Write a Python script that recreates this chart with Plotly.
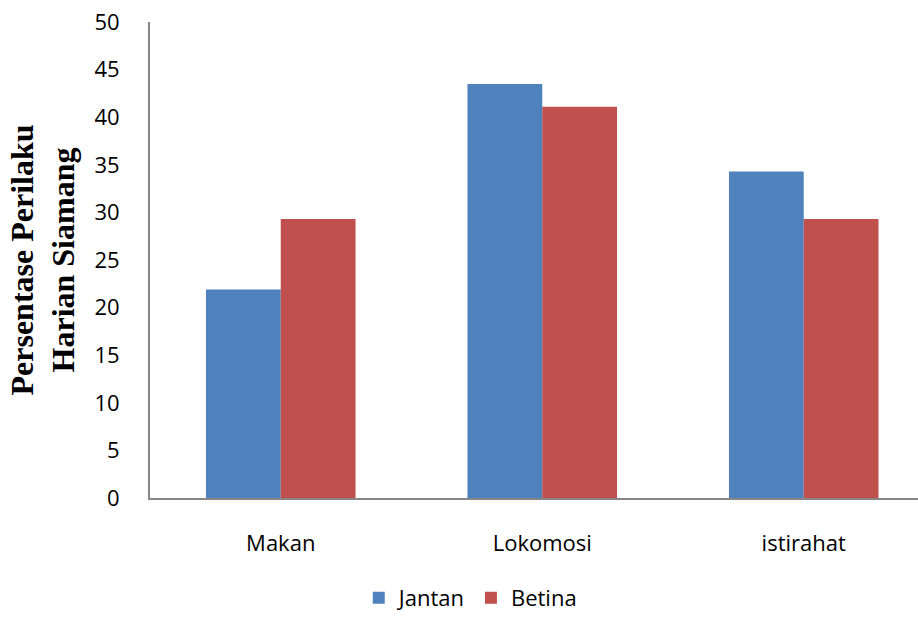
import plotly.graph_objects as go

categories = ["Makan", "Lokomosi", "istirahat"]
jantan = [21.9, 43.5, 34.3]
betina = [29.3, 41.1, 29.3]
y_ticks = [0, 5, 10, 15, 20, 25, 30, 35, 40, 45, 50]

fig = go.Figure()
fig.add_trace(go.Bar(name="Jantan", x=categories, y=jantan, marker_color="#4F81BD",
                     marker_line_width=0))
fig.add_trace(go.Bar(name="Betina", x=categories, y=betina, marker_color="#C0504D",
                     marker_line_width=0))

fig.update_layout(
    width=918, height=619,
    margin=dict(l=150, r=0, t=22, b=121, autoexpand=False),
    plot_bgcolor="white", paper_bgcolor="white",
    barmode="group", bargap=0.428, bargroupgap=0,
    font=dict(family="Open Sans", color="black", size=22),
    showlegend=True,
    legend=dict(orientation="h", x=0.417, xanchor="center",
                yref="container", y=-0.012, yanchor="bottom",
                font=dict(size=22, family="Open Sans"), itemwidth=30),
    xaxis=dict(range=[-0.5, 2.437], showline=True, linecolor="#868686", linewidth=2,
               ticks="", tickfont=dict(size=22), ticklabelstandoff=25, showgrid=False),
    yaxis=dict(range=[0, 50], tickvals=y_ticks, showline=True, linecolor="#868686",
               linewidth=2, ticks="", showgrid=False, zeroline=False,
               tickfont=dict(size=22), ticklabelstandoff=24,
               title=dict(text="Persentase Perilaku<br>Harian Siamang",
                          font=dict(family="Liberation Serif", size=32, color="black",
                                    weight="bold"),
                          standoff=10)),
)

fig.write_html("out.html")
